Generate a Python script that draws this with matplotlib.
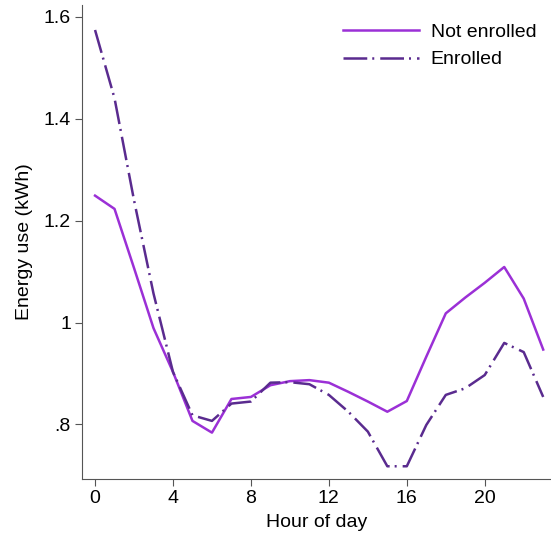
import matplotlib.pyplot as plt

plt.rcParams['font.family'] = ['Liberation Sans', 'DejaVu Sans']

hours = list(range(24))
not_enrolled = [1.249, 1.223, 1.107, 0.989, 0.903, 0.807, 0.784, 0.850,
                 0.854, 0.877, 0.885, 0.887, 0.882, 0.864, 0.845, 0.825,
                 0.846, 0.933, 1.018, 1.049, 1.078, 1.109, 1.047, 0.947]
enrolled = [1.574, 1.440, 1.240, 1.057, 0.903, 0.818, 0.807, 0.841,
            0.845, 0.882, 0.883, 0.879, 0.858, 0.825, 0.786, 0.718,
            0.718, 0.799, 0.858, 0.871, 0.897, 0.960, 0.942, 0.854]

yticks = [0.8, 1.0, 1.2, 1.4, 1.6]
ylabels = ['.8', '1', '1.2', '1.4', '1.6']
xticks = [0, 4, 8, 12, 16, 20]

fig = plt.figure(figsize=(5.51, 5.33), dpi=100)
ax = fig.add_axes([0.1488, 0.1013, 0.8512, 0.8893])

ax.plot(hours, not_enrolled, color='#9b30d6', lw=1.8, label='Not enrolled')
ax.plot(hours, enrolled, color='#5a2b8f', lw=1.8, dashes=[9.5, 2.0, 0.8, 2.4],
        label='Enrolled')

ax.set_xlim(-0.67, 23.4)
ax.set_ylim(0.693, 1.623)
ax.set_xticks(xticks)
ax.set_yticks(yticks)
ax.set_yticklabels(ylabels)
ax.tick_params(labelsize=14, length=5, color='#555555', pad=3)
ax.set_xlabel('Hour of day', fontsize=14, labelpad=5)
ax.set_ylabel('Energy use (kWh)', fontsize=14, labelpad=8)

for s in ['top', 'right']:
    ax.spines[s].set_visible(False)
for s in ['left', 'bottom']:
    ax.spines[s].set_color('#555555')

ax.legend(loc='upper right', frameon=False, fontsize=14, handlelength=3.9,
          handletextpad=0.6, labelspacing=0.5, bbox_to_anchor=(1.006, 0.998))

plt.savefig('out.png')
